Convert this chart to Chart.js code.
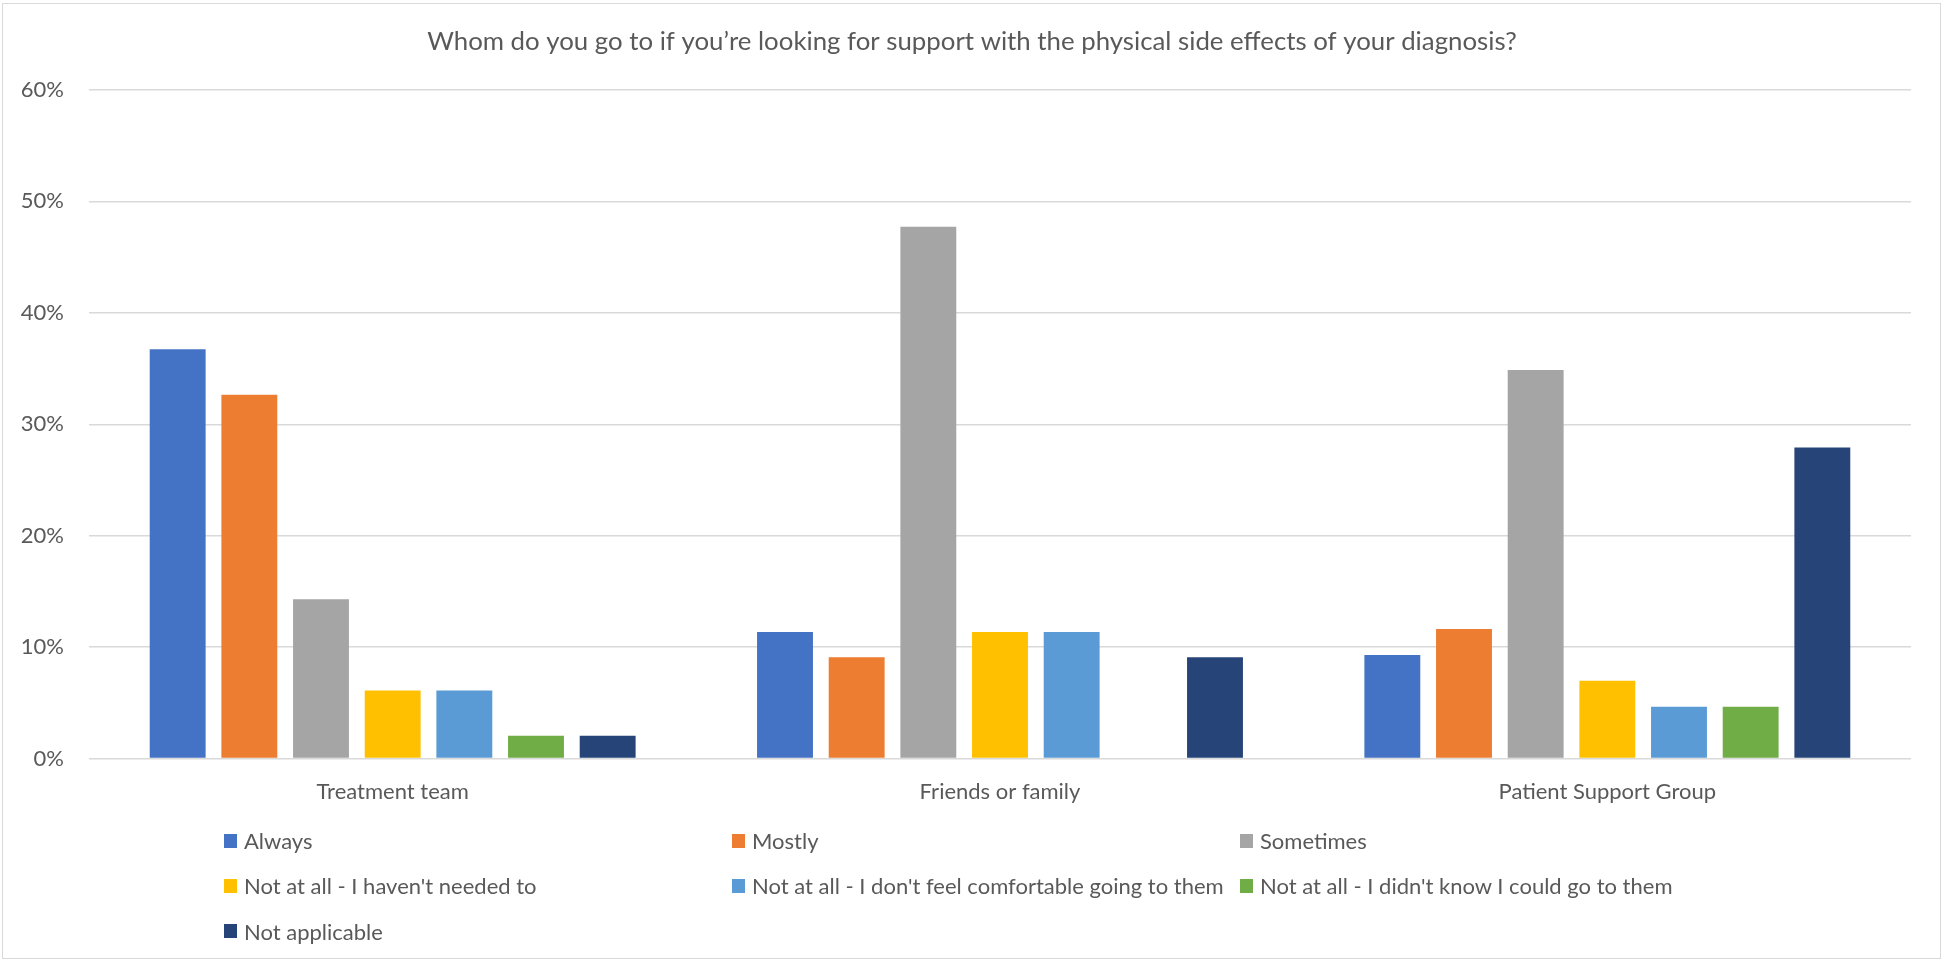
<!DOCTYPE html>
<html>
<head>
<meta charset="utf-8">
<script src="https://cdn.jsdelivr.net/npm/chart.js@4/dist/chart.umd.min.js"></script>
<style>
  html, body { margin: 0; padding: 0; background: #ffffff; }
  #wrap { position: relative; width: 1944px; height: 962px; overflow: hidden; }
  #frame { position: absolute; left: 2px; top: 3px; width: 1939px; height: 956px; border: 1px solid #d9d9d9; box-sizing: border-box; pointer-events: none; }
  #chart { position: absolute; left: 0; top: 0; }
  #legend { position: absolute; left: 224px; top: 818px; display: grid; grid-template-columns: 508px 508px 508px; grid-auto-rows: 45.3px; font-family: Lato, "Open Sans", sans-serif; font-size: 22px; color: #595959; }
  #legend .item { display: flex; align-items: center; white-space: nowrap; }
  #legend .sw { width: 13px; height: 14px; margin-right: 7px; flex: none; }
</style>
</head>
<body>
<div id="wrap">
  <canvas id="chart" width="1944" height="962"></canvas>
  <div id="legend"></div>
  <div id="frame"></div>
</div>
<script>
const chartTitle = "Whom do you go to if you\u2019re looking for support with the physical side effects of your diagnosis?";
const categories = ["Treatment team", "Friends or family", "Patient Support Group"];

// Share of respondents (%) per answer, in category order
const always        = [36.73, 11.36, 9.30];
const mostly        = [32.65, 9.09, 11.63];
const sometimes     = [14.29, 47.73, 34.88];
const notNeeded     = [6.12, 11.36, 6.98];
const notComfortable = [6.12, 11.36, 4.65];
const didntKnow     = [2.04, 0, 4.65];
const notApplicable = [2.04, 9.09, 27.91];

const seriesNames = [
  "Always",
  "Mostly",
  "Sometimes",
  "Not at all - I haven't needed to",
  "Not at all - I don't feel comfortable going to them",
  "Not at all - I didn't know I could go to them",
  "Not applicable"
];
const seriesValues = [always, mostly, sometimes, notNeeded, notComfortable, didntKnow, notApplicable];
const seriesColors = ["#4472C4", "#ED7D31", "#A5A5A5", "#FFC000", "#5B9BD5", "#70AD47", "#264478"];

const yTicks = [0, 10, 20, 30, 40, 50, 60];

const textColor = "#595959";
const gridColor = "#d9d9d9";
const fontFamily = "Lato, 'Open Sans', sans-serif";

const chart = new Chart(document.getElementById("chart"), {
  type: "bar",
  data: {
    labels: categories,
    datasets: seriesNames.map((name, i) => ({
      label: name,
      data: seriesValues[i],
      backgroundColor: seriesColors[i],
      borderWidth: 0,
      categoryPercentage: 0.826,
      barPercentage: 0.78
    }))
  },
  options: {
    responsive: false,
    animation: false,
    layout: { padding: { left: 0, right: 0, top: 0, bottom: 137 } },
    plugins: {
      legend: { display: false },
      tooltip: { enabled: false },
      title: {
        display: true,
        text: chartTitle,
        color: textColor,
        font: { family: fontFamily, size: 25.8, weight: "normal" },
        padding: { top: 26, bottom: 33 }
      }
    },
    scales: {
      x: {
        grid: { display: false, drawTicks: false },
        border: { display: false },
        ticks: { color: textColor, font: { family: fontFamily, size: 22 }, padding: 20 }
      },
      y: {
        min: 0,
        max: 60,
        afterBuildTicks: (s) => { s.ticks = yTicks.map(v => ({ value: v })); },
        afterFit: (s) => { s.width = 89; },
        grid: { color: gridColor, lineWidth: 1.5, drawTicks: false },
        border: { display: false },
        ticks: {
          color: textColor,
          font: { family: fontFamily, size: 22 },
          padding: 25,
          callback: (v) => v + "%"
        }
      },
      // blank right-hand margin so the plot and title stay centred on the page
      yRight: {
        position: "right",
        min: 0,
        max: 60,
        afterFit: (s) => { s.width = 33; },
        grid: { display: false, drawTicks: false },
        border: { display: false },
        ticks: { display: false }
      }
    }
  }
});

// Three-column legend built from the chart's own legend items
const legendEl = document.getElementById("legend");
chart.options.plugins.legend.labels.generateLabels(chart).forEach((item) => {
  const row = document.createElement("div");
  row.className = "item";
  const sw = document.createElement("span");
  sw.className = "sw";
  sw.style.background = item.fillStyle;
  const txt = document.createElement("span");
  txt.textContent = item.text;
  row.appendChild(sw);
  row.appendChild(txt);
  legendEl.appendChild(row);
});
</script>
</body>
</html>
